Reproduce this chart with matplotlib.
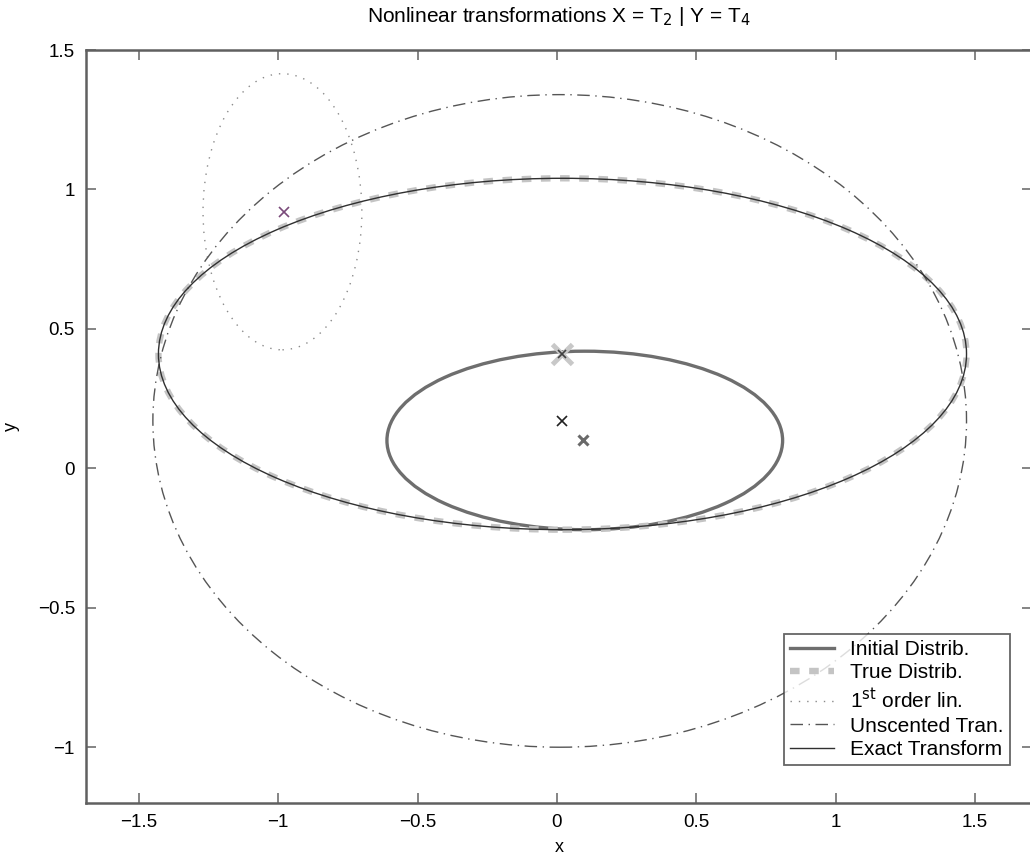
import matplotlib
matplotlib.use("Agg")
import matplotlib.pyplot as plt
from matplotlib.patches import Ellipse
from matplotlib.lines import Line2D

plt.rcParams["font.family"] = ["Liberation Sans", "DejaVu Sans"]

# ellipses: centre x, centre y, full width, full height
names = ["Initial Distrib.", "True Distrib.", "1$^{\\mathrm{st}}$ order lin.",
         "Unscented Tran.", "Exact Transform"]
centre_x = [0.10, 0.02, -0.985, 0.01, 0.02]
centre_y = [0.10, 0.41, 0.92, 0.17, 0.41]
widths = [1.42, 2.90, 0.57, 2.92, 2.90]
heights = [0.64, 1.26, 0.99, 2.34, 1.26]

# means
mean_x = [0.093, 0.02, 0.02, 0.02, -0.98]
mean_y = [0.10, 0.41, 0.41, 0.17, 0.92]

xticks = [-1.5, -1, -0.5, 0, 0.5, 1, 1.5]
yticks = [-1, -0.5, 0, 0.5, 1, 1.5]

styles = [
    dict(color="#6e6e6e", lw=2.4, ls="-"),
    dict(color="#c4c4c4", lw=4.6, ls=(0, (1.5, 1.5))),
    dict(color="#8a8a8a", lw=1.0, ls=(0, (1, 5))),
    dict(color="#555555", lw=1.0, ls=(0, (9, 4, 1, 4))),
    dict(color="#303030", lw=1.0, ls="-"),
]
mean_styles = [
    dict(color="#6a6a6a", ms=7, mew=2.2),
    dict(color="#c8c8c8", ms=14, mew=3.5),
    dict(color="#404040", ms=6, mew=1.2),
    dict(color="#202020", ms=7, mew=1.2),
    dict(color="#7a4a7a", ms=7, mew=1.2),
]

fig = plt.figure(figsize=(10.3, 8.61), dpi=100)
ax = fig.add_axes([86 / 1030, 58 / 861, 946 / 1030, 753 / 861])

order = [0, 2, 3, 1, 4]
for i in order:
    s = styles[i]
    ax.add_patch(Ellipse((centre_x[i], centre_y[i]), widths[i], heights[i],
                         fill=False, edgecolor=s["color"], lw=s["lw"],
                         linestyle=s["ls"], zorder=2 + i * 0.1))

for i in range(len(mean_x)):
    m = mean_styles[i]
    ax.plot(mean_x[i], mean_y[i], "x", color=m["color"], ms=m["ms"],
            mew=m["mew"], zorder=5)

ax.set_xlim(-1.69, 1.705)
ax.set_ylim(-1.2, 1.5)
ax.set_xticks(xticks)
ax.set_yticks(yticks)
ax.set_xticklabels(["\u22121.5", "\u22121", "\u22120.5", "0", "0.5", "1", "1.5"])
ax.set_yticklabels(["\u22121", "\u22120.5", "0", "0.5", "1", "1.5"])
ax.tick_params(direction="in", length=7, width=1.2, color="#707070",
               top=True, right=True, labelsize=13.5, pad=8)
for sp in ax.spines.values():
    sp.set_color("#606060")
    sp.set_linewidth(1.8)

ax.set_xlabel("x", fontsize=13, labelpad=6)
ax.set_ylabel("y", fontsize=13)
ax.yaxis.set_label_coords(-(86 - 20) / 946, 0.5)
ax.set_title("Nonlinear transformations X = T$_2$ | Y = T$_4$", fontsize=15, pad=20)

handles = [Line2D([], [], **styles[i]) for i in range(5)]
leg = ax.legend(handles, names, loc="lower right", bbox_to_anchor=(0.977, 0.05),
                fontsize=15, frameon=True, fancybox=False, handlelength=2.1,
                handletextpad=0.8, borderpad=0.3, labelspacing=0.22,
                borderaxespad=0.0)
leg.get_frame().set_edgecolor("#404040")
leg.get_frame().set_linewidth(1.3)

fig.savefig("out.png", dpi=100)
